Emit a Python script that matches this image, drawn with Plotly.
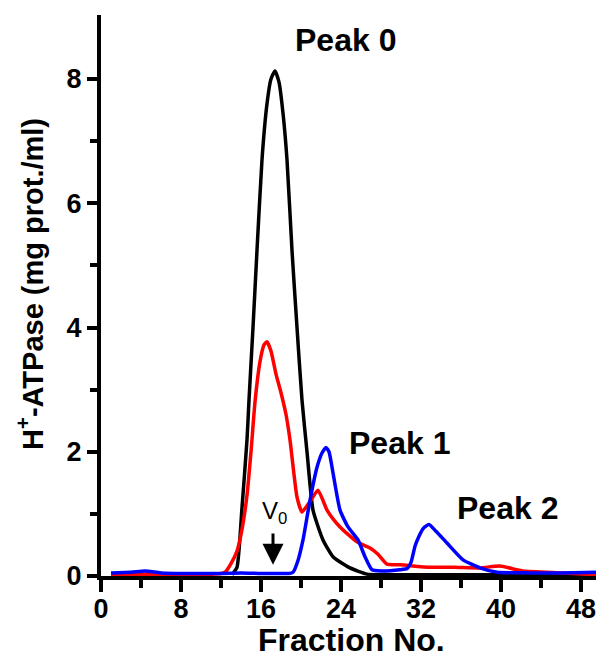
import plotly.graph_objects as go

black_x = [13.1, 13.6, 14.1, 14.6, 14.8, 15.2, 15.6, 16.1, 16.6, 17.0, 17.4, 17.8, 18.2, 18.6, 19.1, 19.6, 20.1, 20.6, 21.2, 22.2, 23.2, 24.9, 26.6, 28, 35, 42, 49.5]
black_y = [0.02, 0.14, 1.1, 2.19, 2.83, 4.0, 5.24, 6.7, 7.6, 8.0, 8.13, 7.95, 7.45, 6.7, 5.24, 4.0, 2.83, 2.0, 1.06, 0.58, 0.31, 0.13, 0.03, 0.02, 0.02, 0.02, 0.02]

red_x = [1, 4, 8, 11, 12, 12.4, 13.0, 13.6, 14.1, 14.6, 15.0, 15.4, 15.9, 16.3, 16.6, 17.0, 17.5, 18.0, 18.5, 18.9, 19.6, 20.1, 20.9, 21.7, 22.6, 23.2, 23.9, 24.7, 25.6, 26.2, 26.9, 27.7, 28.6, 29.9, 32.9, 35.3, 37.9, 39.9, 42.2, 46.2, 49.5]
red_y = [0.03, 0.03, 0.03, 0.03, 0.04, 0.06, 0.2, 0.4, 0.75, 1.3, 2.0, 2.8, 3.45, 3.72, 3.77, 3.62, 3.25, 2.95, 2.6, 2.19, 1.27, 1.03, 1.2, 1.38, 1.06, 0.92, 0.79, 0.67, 0.55, 0.5, 0.45, 0.35, 0.19, 0.18, 0.14, 0.14, 0.13, 0.16, 0.08, 0.05, 0.02]

blue_x = [1, 3, 4.4, 6, 9, 12, 14, 16, 18, 18.8, 19.2, 19.7, 20.2, 20.9, 21.6, 22.1, 22.5, 22.8, 23.2, 23.9, 24.7, 25.7, 26.4, 27.1, 28.0, 29.9, 30.6, 31.0, 31.4, 31.8, 32.2, 32.8, 33.5, 34.6, 36.2, 37.9, 39.6, 43, 46, 49.5]
blue_y = [0.05, 0.06, 0.08, 0.05, 0.04, 0.04, 0.05, 0.04, 0.04, 0.04, 0.06, 0.25, 0.58, 1.22, 1.75, 1.98, 2.07, 2.0, 1.66, 1.06, 0.79, 0.58, 0.31, 0.1, 0.08, 0.1, 0.12, 0.22, 0.48, 0.64, 0.76, 0.83, 0.72, 0.53, 0.26, 0.13, 0.06, 0.05, 0.05, 0.06]

x_ticks = [0, 8, 16, 24, 32, 40, 48]
x_minor = [4, 12, 20, 28, 36, 44]
y_ticks = [0, 2, 4, 6, 8]
y_minor = [1, 3, 5, 7]

FONT = "Liberation Sans, Arial, sans-serif"

fig = go.Figure()
for xs, ys, c in [(black_x, black_y, "#000000"), (red_x, red_y, "#ff0000"), (blue_x, blue_y, "#0000ff")]:
    fig.add_trace(go.Scatter(x=xs, y=ys, mode="lines",
                             line=dict(color=c, width=3.5, shape="spline", smoothing=0.5),
                             showlegend=False, hoverinfo="skip"))

fig.update_layout(
    width=596, height=664,
    margin=dict(l=101, r=0, t=15, b=88),
    plot_bgcolor="white", paper_bgcolor="white",
    font=dict(family=FONT, color="black"),
)
fig.update_xaxes(
    range=[0, 49.5], tickvals=x_ticks, ticks="outside", ticklen=12, tickwidth=3.5, tickcolor="black",
    showline=True, linewidth=4, linecolor="black", showgrid=False, zeroline=False, automargin=False,
    tickfont=dict(size=27, weight="bold", family=FONT), ticklabelstandoff=-6, ticklabeloverflow="allow",
    minor=dict(tickvals=x_minor, ticks="outside", ticklen=8, tickwidth=3.5, tickcolor="black"),
)
fig.update_yaxes(
    range=[0, 9.03], tickvals=y_ticks, ticks="outside", ticklen=10, tickwidth=3.5, tickcolor="black",
    showline=True, linewidth=4, linecolor="black", showgrid=False, zeroline=False, automargin=False,
    tickfont=dict(size=27, weight="bold", family=FONT),
    minor=dict(tickvals=y_minor, ticks="outside", ticklen=7, tickwidth=3.5, tickcolor="black"),
)

fig.add_annotation(xref="paper", yref="paper", x=0.506, y=-0.114, text="Fraction No.", showarrow=False,
                   font=dict(size=32, weight="bold", family=FONT), xanchor="center", yanchor="middle")
fig.add_annotation(xref="paper", yref="paper", x=-0.143, y=0.521, text="H<sup>+</sup>-ATPase (mg prot./ml)",
                   showarrow=False, textangle=-90, font=dict(size=29, weight="bold", family=FONT),
                   xanchor="center", yanchor="middle")

for txt, x, y in [("Peak 0", 24.4, 8.63), ("Peak 1", 29.8, 2.14), ("Peak 2", 40.6, 1.10)]:
    fig.add_annotation(x=x, y=y, text=txt, showarrow=False, font=dict(size=32, weight="bold", family=FONT))

fig.add_annotation(x=17.3, y=1.03, text="V<sub>0</sub>", showarrow=False, font=dict(size=24, family=FONT))
fig.add_annotation(x=17.2, y=0.18, ax=17.2, ay=0.71, axref="x", ayref="y", text="", showarrow=True,
                   arrowhead=2, arrowsize=1.4, arrowwidth=3, arrowcolor="black")

fig.write_html("out.html", config={"displayModeBar": False},
               post_script="document.body.style.margin='0';document.body.style.overflow='hidden';")
